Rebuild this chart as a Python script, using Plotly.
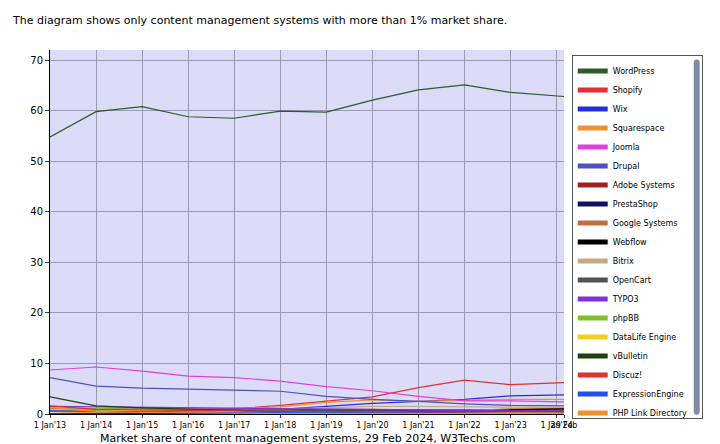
import plotly.graph_objects as go

x = [2013, 2014, 2015, 2016, 2017, 2018, 2019, 2020, 2021, 2022, 2023, 2024.16]
tick_vals = [2013, 2014, 2015, 2016, 2017, 2018, 2019, 2020, 2021, 2022, 2023, 2024, 2024.16]
tick_text = ["1 Jan'13", "1 Jan'14", "1 Jan'15", "1 Jan'16", "1 Jan'17", "1 Jan'18", "1 Jan'19",
             "1 Jan'20", "1 Jan'21", "1 Jan'22", "1 Jan'23", "1 Jan'24", "29 Feb"]

names = ["WordPress", "Shopify", "Wix", "Squarespace", "Joomla", "Drupal", "Adobe Systems",
         "PrestaShop", "Google Systems", "Webflow", "Bitrix", "OpenCart", "TYPO3", "phpBB",
         "DataLife Engine", "vBulletin", "Discuz!", "ExpressionEngine", "PHP Link Directory"]
colors = ["#2e5a2a", "#e03030", "#2030e0", "#f09030", "#e040e0", "#5050c0", "#a02020",
          "#101060", "#c07040", "#000000", "#c8a880", "#505050", "#8030e0", "#80c030",
          "#f0d020", "#204010", "#e03030", "#2050f0", "#f09030"]
values = [
    [54.8, 59.8, 60.8, 58.8, 58.5, 59.9, 59.7, 62.1, 64.1, 65.1, 63.6, 62.8],
    [0.1, 0.2, 0.3, 0.6, 1.0, 1.7, 2.6, 3.4, 5.2, 6.7, 5.8, 6.2],
    [0.0, 0.1, 0.2, 0.4, 0.6, 0.9, 1.5, 2.1, 2.5, 2.9, 3.6, 3.8],
    [0.1, 0.3, 0.5, 0.8, 1.1, 1.4, 2.3, 2.8, 2.5, 2.7, 2.9, 2.9],
    [8.7, 9.3, 8.5, 7.5, 7.2, 6.5, 5.4, 4.6, 3.5, 2.6, 2.6, 2.4],
    [7.2, 5.5, 5.1, 4.9, 4.7, 4.5, 3.5, 2.9, 2.5, 2.0, 1.7, 1.6],
    [1.0, 1.0, 1.0, 1.0, 1.0, 1.0, 0.9, 0.9, 0.8, 0.8, 0.8, 0.8],
    [0.6, 0.7, 0.8, 0.9, 0.9, 0.8, 0.7, 0.7, 0.6, 0.6, 0.6, 0.5],
    [0.1, 0.1, 0.1, 0.2, 0.2, 0.2, 0.2, 0.3, 0.4, 0.6, 1.0, 1.1],
    [0.0, 0.0, 0.0, 0.0, 0.0, 0.0, 0.1, 0.2, 0.3, 0.5, 0.8, 1.0],
    [0.5, 0.6, 0.7, 0.7, 0.8, 1.0, 1.2, 1.5, 1.5, 1.4, 1.3, 1.3],
    [0.6, 0.7, 0.8, 0.8, 0.8, 0.7, 0.6, 0.6, 0.5, 0.5, 0.4, 0.4],
    [1.5, 1.4, 1.3, 1.2, 1.1, 1.0, 0.9, 0.8, 0.7, 0.7, 0.6, 0.6],
    [1.2, 1.0, 0.8, 0.7, 0.6, 0.5, 0.4, 0.3, 0.3, 0.2, 0.2, 0.2],
    [0.8, 0.7, 0.6, 0.6, 0.5, 0.5, 0.4, 0.3, 0.3, 0.2, 0.2, 0.2],
    [3.4, 1.6, 1.2, 0.9, 0.7, 0.5, 0.4, 0.3, 0.2, 0.2, 0.1, 0.1],
    [1.6, 0.9, 0.8, 0.7, 0.6, 0.5, 0.4, 0.3, 0.3, 0.2, 0.2, 0.2],
    [0.6, 0.5, 0.4, 0.4, 0.3, 0.3, 0.2, 0.2, 0.2, 0.1, 0.1, 0.1],
    [1.3, 0.5, 0.3, 0.2, 0.2, 0.1, 0.1, 0.1, 0.1, 0.1, 0.1, 0.1],
]

fig = go.Figure()
for n, c, v in zip(names, colors, values):
    fig.add_trace(go.Scatter(x=x, y=v, name=n, mode="lines", line=dict(color=c, width=1.2)))

fig.update_layout(
    width=720, height=444, paper_bgcolor="white", plot_bgcolor="#dcdcf8",
    margin=dict(l=42, r=164, t=42, b=38),
    font=dict(family="Verdana, DejaVu Sans", size=10, color="#000"),
    showlegend=True,
    legend=dict(x=1.015, y=0.985, xanchor="left", yanchor="top", bordercolor="#555", borderwidth=1,
                bgcolor="white", font=dict(size=8), tracegroupgap=0, itemsizing="constant",
                itemwidth=30),
    annotations=[
        dict(text="The diagram shows only content management systems with more than 1% market share.",
             x=0, y=1, xref="paper", yref="paper", xanchor="left", yanchor="top", showarrow=False,
             xshift=-40, yshift=38, font=dict(size=11)),
        dict(text="Market share of content management systems, 29 Feb 2024, W3Techs.com",
             x=0.5, y=0, xref="paper", yref="paper", xanchor="center", yanchor="top", showarrow=False,
             yshift=-16, font=dict(size=11)),
    ],
)
fig.update_xaxes(range=[2013, 2024.16], tickvals=tick_vals, ticktext=tick_text, tickangle=0,
                 showgrid=True, gridcolor="#9a9ab0", showline=True, linecolor="#000",
                 tickfont=dict(size=8), ticks="outside", ticklen=3)
fig.update_yaxes(range=[0, 72], dtick=10, showgrid=True, gridcolor="#9a9ab0", zeroline=False,
                 showline=True, linecolor="#000", ticks="outside", ticklen=4, tickfont=dict(size=10))
fig.write_html("out.html")
